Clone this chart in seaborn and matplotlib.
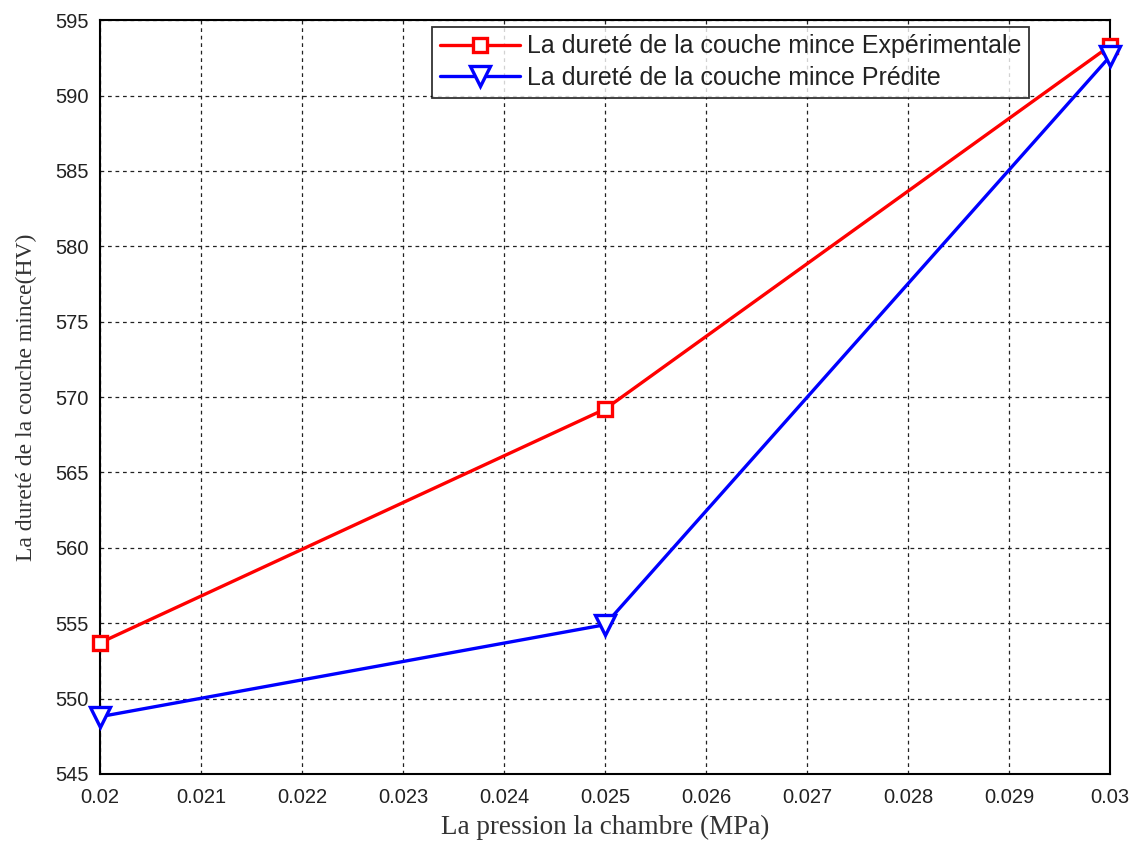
import matplotlib
matplotlib.use("Agg")
import matplotlib.pyplot as plt
import seaborn as sns
import pandas as pd

# Chamber pressure (MPa) and thin-film hardness (HV)
pression = [0.020, 0.025, 0.030]
durete_exp = [553.7, 569.2, 593.3]
durete_pred = [548.8, 554.9, 592.6]

label_exp = "La dureté de la couche mince Expérimentale"
label_pred = "La dureté de la couche mince Prédite"

x_ticks = [0.02, 0.021, 0.022, 0.023, 0.024, 0.025, 0.026, 0.027, 0.028, 0.029, 0.03]
x_tick_labels = ["0.02", "0.021", "0.022", "0.023", "0.024", "0.025",
                 "0.026", "0.027", "0.028", "0.029", "0.03"]
y_ticks = [545, 550, 555, 560, 565, 570, 575, 580, 585, 590, 595]

sns.set_theme(style="white")
plt.rcParams["font.family"] = ["Liberation Sans", "DejaVu Sans"]

fig = plt.figure(figsize=(11.4, 8.41), dpi=100)
ax = fig.add_axes([0.0877, 0.0797, 0.886, 0.8963])

df_exp = pd.DataFrame({"x": pression, "y": durete_exp})
df_pred = pd.DataFrame({"x": pression, "y": durete_pred})

sns.lineplot(data=df_exp, x="x", y="y", ax=ax, color="#ff0000", linewidth=2.4,
             marker="s", markersize=10, markerfacecolor="white",
             markeredgecolor="#ff0000", markeredgewidth=2.4, label=label_exp,
             clip_on=False, zorder=4)
sns.lineplot(data=df_pred, x="x", y="y", ax=ax, color="#0000ff", linewidth=2.4,
             marker="v", markersize=14, markerfacecolor="white",
             markeredgecolor="#0000ff", markeredgewidth=2.4, label=label_pred,
             clip_on=False, zorder=4)

ax.set_xlim(0.02, 0.03)
ax.set_ylim(545, 595)
ax.set_xticks(x_ticks)
ax.set_xticklabels(x_tick_labels)
ax.set_yticks(y_ticks)

ax.grid(True, color="#222222", linestyle=(0, (3, 3)), linewidth=0.9)
for s in ax.spines.values():
    s.set_color("black")
    s.set_linewidth(1.5)
    s.set_zorder(3)
ax.tick_params(axis="both", direction="in", length=6, width=1, colors="black",
               labelsize=14.5, labelcolor="#222222")
ax.tick_params(axis="x", pad=10)
ax.tick_params(axis="y", pad=8)

ax.set_xlabel("La pression la chambre (MPa)", family=["Liberation Serif", "DejaVu Serif"],
              fontsize=19.5, color="#333333", labelpad=6)
ax.set_ylabel("La dureté de la couche mince(HV)", family=["Liberation Serif", "DejaVu Serif"],
              fontsize=17, color="#333333")
ax.yaxis.set_label_coords(-0.062, 0.5)

leg = ax.legend(loc="upper left", bbox_to_anchor=(432 / 1140, 1 - 27 / 841),
                bbox_transform=fig.transFigure, fontsize=18, frameon=True,
                fancybox=False, edgecolor="black", borderpad=0.3,
                handlelength=3.2, handletextpad=0.3, labelspacing=0.3,
                borderaxespad=0)
leg.get_frame().set_linewidth(1.3)
leg.set_zorder(5)
for t in leg.get_texts():
    t.set_color("#222222")

fig.savefig("out.png", dpi=100)
